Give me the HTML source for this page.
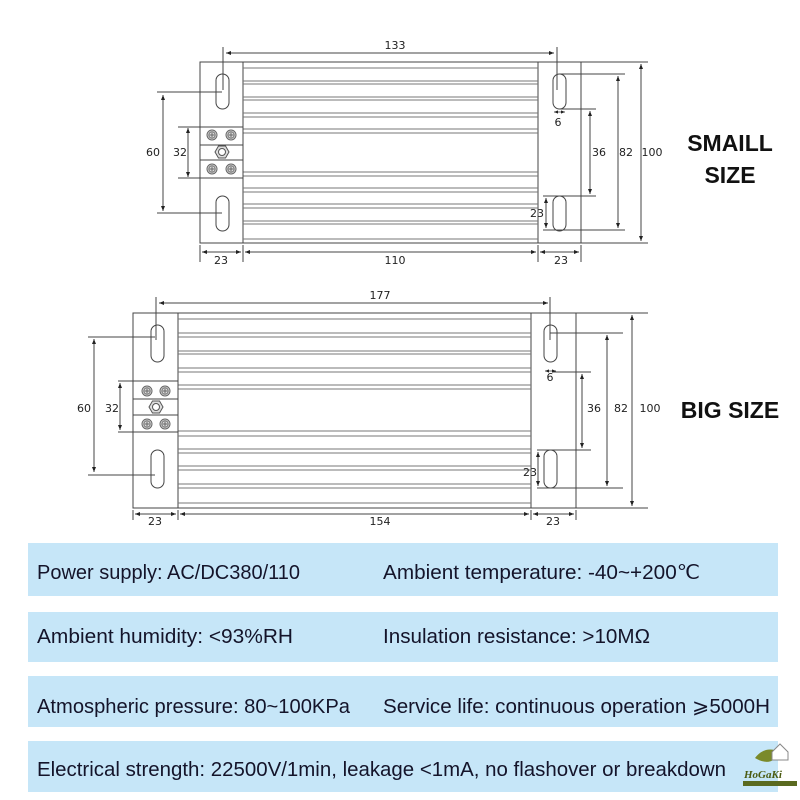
<!DOCTYPE html>
<html><head><meta charset="utf-8"><style>
body{margin:0;background:#fff;width:800px;height:800px;overflow:hidden}
svg{display:block}
.d{font-family:"DejaVu Sans","Liberation Sans",sans-serif;font-size:11px;fill:#222}
.i{font-family:"Liberation Sans",sans-serif;font-size:20px;fill:#14142a;font-weight:500}
.t{font-family:"Liberation Sans",sans-serif;font-size:23px;font-weight:bold;fill:#111}
</style></head><body>
<svg width="800" height="800" viewBox="0 0 800 800">
<defs>
<marker id="a" viewBox="0 0 10 10" refX="10" refY="5" markerWidth="5" markerHeight="5" orient="auto-start-reverse"><path d="M0,1 L10,5 L0,9z" fill="#222"/></marker>
<g id="scr"><circle r="5" fill="#ddd" stroke="#666"/><circle r="3.2" fill="none" stroke="#777"/><path d="M-2.5,0H2.5M0,-2.5V2.5" stroke="#666"/></g>
</defs>
<g stroke="#444" stroke-width="1" fill="none">
<rect x="200" y="62" width="381" height="181"/>
<line x1="243" y1="62" x2="243" y2="243"/><line x1="538" y1="62" x2="538" y2="243"/>
<path stroke="#777" d="M243 68H538M243 81H538M243 84H538M243 97H538M243 100H538M243 113H538M243 117H538M243 129H538M243 133H538M243 172H538M243 176H538M243 188H538M243 192H538M243 204H538M243 208H538M243 221H538M243 224H538M243 239H538"/>
<rect x="216" y="74" width="13" height="35" rx="6.5"/><rect x="216" y="196" width="13" height="35" rx="6.5"/>
<rect x="553" y="74" width="13" height="35" rx="6.5"/><rect x="553" y="196" width="13" height="35" rx="6.5"/>
<rect x="200" y="127" width="43" height="51"/><line x1="200" y1="145" x2="243" y2="145"/><line x1="200" y1="160" x2="243" y2="160"/>
<path d="M223 47V90M557 47V90M200 245V262M243 245V262M538 245V262M581 245V262"/>
<line x1="226" y1="53" x2="554" y2="53" marker-start="url(#a)" marker-end="url(#a)"/>
<line x1="202" y1="252" x2="241" y2="252" marker-start="url(#a)" marker-end="url(#a)"/>
<line x1="245" y1="252" x2="536" y2="252" marker-start="url(#a)" marker-end="url(#a)"/>
<line x1="540" y1="252" x2="579" y2="252" marker-start="url(#a)" marker-end="url(#a)"/>
<path d="M157 92H222M157 213H222M178 127H200M178 178H200"/>
<line x1="163" y1="95" x2="163" y2="211" marker-start="url(#a)" marker-end="url(#a)"/>
<line x1="188" y1="128" x2="188" y2="177" marker-start="url(#a)" marker-end="url(#a)"/>
<path d="M560 74H625M560 109H596M543 196H596M543 230H625M581 62H648M581 243H648"/>
<line x1="546" y1="198" x2="546" y2="228" marker-start="url(#a)" marker-end="url(#a)"/>
<line x1="590" y1="111" x2="590" y2="194" marker-start="url(#a)" marker-end="url(#a)"/>
<line x1="618" y1="76" x2="618" y2="228" marker-start="url(#a)" marker-end="url(#a)"/>
<line x1="641" y1="64" x2="641" y2="241" marker-start="url(#a)" marker-end="url(#a)"/>
<line x1="554" y1="112" x2="565" y2="112" stroke-width=".8" marker-start="url(#a)" marker-end="url(#a)"/>
<rect x="133" y="313" width="443" height="195"/>
<line x1="178" y1="313" x2="178" y2="508"/><line x1="531" y1="313" x2="531" y2="508"/>
<path stroke="#777" d="M178 319H531M178 333H531M178 337H531M178 351H531M178 354H531M178 368H531M178 372H531M178 385H531M178 389H531M178 431H531M178 436H531M178 449H531M178 453H531M178 466H531M178 470H531M178 484H531M178 488H531M178 503H531"/>
<rect x="151" y="325" width="13" height="37" rx="6.5"/><rect x="151" y="450" width="13" height="38" rx="6.5"/>
<rect x="544" y="325" width="13" height="37" rx="6.5"/><rect x="544" y="450" width="13" height="38" rx="6.5"/>
<rect x="133" y="381" width="45" height="51"/><line x1="133" y1="399" x2="178" y2="399"/><line x1="133" y1="415" x2="178" y2="415"/>
<path d="M156 297V340M550 297V340M133 510V520M178 510V520M531 510V520M576 510V520"/>
<line x1="159" y1="303" x2="548" y2="303" marker-start="url(#a)" marker-end="url(#a)"/>
<line x1="135" y1="514" x2="176" y2="514" marker-start="url(#a)" marker-end="url(#a)"/>
<line x1="180" y1="514" x2="529" y2="514" marker-start="url(#a)" marker-end="url(#a)"/>
<line x1="533" y1="514" x2="574" y2="514" marker-start="url(#a)" marker-end="url(#a)"/>
<path d="M88 337H155M88 475H155M118 381H133M118 432H133"/>
<line x1="94" y1="339" x2="94" y2="472" marker-start="url(#a)" marker-end="url(#a)"/>
<line x1="120" y1="383" x2="120" y2="430" marker-start="url(#a)" marker-end="url(#a)"/>
<path d="M550 333H623M552 372H591M537 450H591M537 488H623M576 313H648M576 508H648"/>
<line x1="538" y1="452" x2="538" y2="486" marker-start="url(#a)" marker-end="url(#a)"/>
<line x1="582" y1="374" x2="582" y2="448" marker-start="url(#a)" marker-end="url(#a)"/>
<line x1="607" y1="335" x2="607" y2="486" marker-start="url(#a)" marker-end="url(#a)"/>
<line x1="632" y1="315" x2="632" y2="506" marker-start="url(#a)" marker-end="url(#a)"/>
<line x1="545" y1="371" x2="556" y2="371" stroke-width=".8" marker-start="url(#a)" marker-end="url(#a)"/>
</g>
<use href="#scr" x="212" y="135"/><use href="#scr" x="231" y="135"/><use href="#scr" x="212" y="169"/><use href="#scr" x="231" y="169"/>
<g transform="translate(222,152)"><polygon points="-7,0 -3.5,-6 3.5,-6 7,0 3.5,6 -3.5,6" fill="#ddd" stroke="#555"/><circle r="3.5" fill="#fff" stroke="#555"/></g>
<use href="#scr" x="147" y="391"/><use href="#scr" x="165" y="391"/><use href="#scr" x="147" y="424"/><use href="#scr" x="165" y="424"/>
<g transform="translate(156,407)"><polygon points="-7,0 -3.5,-6 3.5,-6 7,0 3.5,6 -3.5,6" fill="#ddd" stroke="#555"/><circle r="3.5" fill="#fff" stroke="#555"/></g>
<g class="d" text-anchor="middle">
<text x="395" y="49">133</text><text x="221" y="264">23</text><text x="395" y="264">110</text><text x="561" y="264">23</text>
<text x="153" y="156">60</text><text x="180" y="156">32</text>
<text x="599" y="156">36</text><text x="626" y="156">82</text><text x="652" y="156">100</text>
<text x="537" y="217">23</text><text x="558" y="126">6</text>
<text x="380" y="299">177</text><text x="155" y="525">23</text><text x="380" y="525">154</text><text x="553" y="525">23</text>
<text x="84" y="412">60</text><text x="112" y="412">32</text>
<text x="594" y="412">36</text><text x="621" y="412">82</text><text x="650" y="412">100</text>
<text x="530" y="476">23</text><text x="550" y="381">6</text>
</g>
<g class="t" text-anchor="middle"><text x="730" y="151">SMAILL</text><text x="730" y="183">SIZE</text><text x="730" y="418">BIG SIZE</text></g>
<g fill="#c6e6f8">
<rect x="28" y="543" width="750" height="53"/><rect x="28" y="612" width="750" height="50"/>
<rect x="28" y="676" width="750" height="51"/><rect x="28" y="741" width="750" height="51"/>
</g>
<g class="i">
<text x="37" y="579" textLength="263" lengthAdjust="spacingAndGlyphs">Power supply: AC/DC380/110</text>
<text x="383" y="579" textLength="317" lengthAdjust="spacingAndGlyphs">Ambient temperature: -40~+200℃</text>
<text x="37" y="643" textLength="256" lengthAdjust="spacingAndGlyphs">Ambient humidity: &lt;93%RH</text>
<text x="383" y="643" textLength="267" lengthAdjust="spacingAndGlyphs">Insulation resistance: &gt;10MΩ</text>
<text x="37" y="713" textLength="313" lengthAdjust="spacingAndGlyphs">Atmospheric pressure: 80~100KPa</text>
<text x="383" y="713" textLength="387" lengthAdjust="spacingAndGlyphs">Service life: continuous operation ⩾5000H</text>
<text x="37" y="776" textLength="689" lengthAdjust="spacingAndGlyphs">Electrical strength: 22500V/1min, leakage &lt;1mA, no flashover or breakdown</text>
</g>
<path d="M755 758 Q765 745 780 752 Q772 768 755 758z" fill="#7a8a2a"/>
<path d="M772 752 L780 744 L788 752 V760 H772z" fill="#fff" stroke="#888"/>
<text x="744" y="778" font-family="Liberation Serif,serif" font-style="italic" font-weight="bold" font-size="11" fill="#4a5a10">HoGaKi</text>
<rect x="743" y="781" width="54" height="5" fill="#5a6a20"/>
</svg>
</body></html>
